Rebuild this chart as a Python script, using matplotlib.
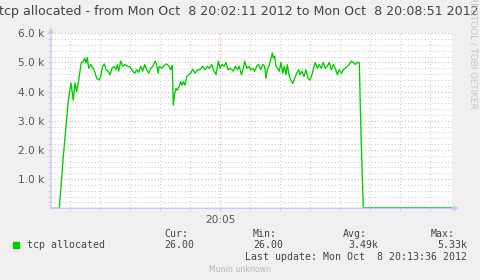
import numpy as np
import matplotlib
matplotlib.use("Agg")
import matplotlib.pyplot as plt

# seconds after 20:02:11 and tcp allocated values
secs = [0, 8.3, 12.3, 17.3, 20, 22.3, 24, 25.7, 27.7, 30.3,
        32.3, 33.7, 35, 36.3, 37.7, 39.7, 42.3, 44, 45.7, 48.3,
        49.7, 51.7, 53.3, 55, 57.3, 59, 61, 63, 65, 66.3,
        67.7, 69.7, 71.7, 74, 76.3, 79, 81.7, 83.7, 85.7, 87.7,
        89.7, 91.7, 93.7, 95.7, 97.7, 99.7, 101.7, 104.3, 105.7, 107,
        108.3, 110.7, 113, 115.7, 118, 119.7, 121.3, 122.3, 123.7, 125,
        126.3, 128, 129.7, 131, 132.3, 134, 135.7, 137.7, 139.7, 141.7,
        144, 146.3, 149, 151.7, 154, 156.3, 158.3, 160.7, 163, 165,
        167.3, 169, 171, 173, 175, 177, 179, 181, 182.3, 184.3,
        186.3, 188.3, 190.3, 192.3, 193.7, 195.7, 197.7, 199.7, 201.7, 203.7,
        205.7, 207.7, 209.7, 211.7, 213.7, 215, 216.3, 218, 219.7, 221.3,
        222.3, 223.7, 225, 226.7, 228.3, 230, 231.7, 233.3, 235, 236.3,
        238.3, 239.7, 241.7, 243.7, 245.7, 247.7, 249, 251, 253, 255,
        257, 259, 261, 263, 264.3, 266.3, 268.3, 270.3, 272.3, 274.3,
        276.3, 278.3, 280.3, 282.3, 284.3, 286.3, 288.3, 290.3, 292.3, 294.3,
        296.3, 298.3, 300.3, 302.3, 304.3, 306.3, 308.3, 310, 312.3, 401]
tcp = [0, 0, 1770, 3700, 4300, 3700, 4300, 4000, 4400, 5000,
       5030, 5150, 4980, 5170, 4800, 4930, 4800, 4650, 4450, 4400,
       4520, 4870, 4950, 4750, 4700, 4580, 4800, 4870, 4750, 4930,
       4700, 5050, 4870, 4930, 4870, 4850, 4700, 4630, 4750, 4660,
       4870, 4700, 4930, 4750, 4630, 4800, 4870, 5050, 4930, 4630,
       4870, 4800, 4890, 4950, 4870, 4750, 4900, 3540, 3940, 4110,
       4050, 4170, 4340, 4220, 4340, 4220, 4520, 4580, 4630, 4770,
       4630, 4750, 4750, 4870, 4750, 4870, 4800, 4930, 4700, 4580,
       5050, 4800, 4930, 4870, 5000, 4750, 4800, 4750, 4700, 4870,
       4750, 4870, 4580, 4800, 5050, 4800, 4870, 4750, 4800, 4700,
       4870, 4930, 4750, 4930, 4870, 4450, 4750, 4870, 5100, 5330,
       5150, 5220, 4870, 4800, 4700, 5000, 4630, 4870, 4580, 4930,
       4520, 4400, 4280, 4450, 4630, 4750, 4580, 4700, 4520, 4750,
       4450, 4400, 4580, 4870, 5000, 4800, 4930, 4800, 5000, 4800,
       4870, 5000, 4750, 4930, 4800, 4580, 4750, 4630, 4750, 4800,
       4870, 4930, 5050, 5000, 4930, 5000, 5000, 2500, 26, 26]

ymajor = [1000, 2000, 3000, 4000, 5000, 6000]
ylabels = ["1.0 k", "2.0 k", "3.0 k", "4.0 k", "5.0 k", "6.0 k"]
xmajor = [169]
xlabels = ["20:05"]

title = "tcp allocated - from Mon Oct  8 20:02:11 2012 to Mon Oct  8 20:08:51 2012"
stat_heads = ["Cur:", "Min:", "Avg:", "Max:"]
stat_vals = ["26.00", "26.00", "3.49k", "5.33k"]

bg = "#F0F0F0"
axcol = "#C8C8F4"
green = "#00CC00"

W, H = 481, 280
fig = plt.figure(figsize=(W / 100, H / 100), dpi=100, facecolor=bg)
ax = fig.add_axes([51 / W, (H - 208.3) / H, 401 / W, 175 / H])
ax.set_facecolor("white")
ax.set_xlim(0, 401)
ax.set_ylim(0, 6000)

ax.set_xticks(xmajor)
ax.set_xticklabels(xlabels)
ax.set_xticks(np.arange(19, 401, 30), minor=True)
ax.set_yticks(ymajor)
ax.set_yticklabels(ylabels)
ax.set_yticks(np.arange(200, 6000, 200), minor=True)

ax.grid(which="minor", color="#CFCFCF", linestyle=(0, (1, 2)), lw=0.8)
ax.grid(which="major", color="#E4A8A8", linestyle=(0, (1, 2)), lw=0.8)
ax.set_axisbelow(True)
ax.tick_params(which="both", length=2, color=axcol, labelsize=7.6,
               labelcolor="#555555", pad=3)
for s in ax.spines.values():
    s.set_visible(False)

ax.plot(secs, tcp, color=green, lw=0.95, zorder=3)

# axes with arrow heads
ax.annotate("", xy=(408, 0), xytext=(0, 0), xycoords="data",
            arrowprops=dict(arrowstyle="-|>", color=axcol, lw=1,
                            mutation_scale=7, shrinkA=0, shrinkB=0),
            annotation_clip=False)
ax.annotate("", xy=(0, 6200), xytext=(0, 0), xycoords="data",
            arrowprops=dict(arrowstyle="-|>", color=axcol, lw=1,
                            mutation_scale=7, shrinkA=0, shrinkB=0),
            annotation_clip=False)

fig.text(239 / W, 1 - 12 / H, title, ha="center", va="center",
         fontsize=9.05, color="#444444")
fig.text(473 / W, 1 - 52 / H, "RRDTOOL / TOBI OETIKER", rotation=270,
         ha="center", va="center", fontsize=6.3, color="#C4C4C4")

mono = "DejaVu Sans Mono"
fig.patches.append(plt.Rectangle((13 / W, 1 - 248 / H), 6 / W, 6 / H,
                                 transform=fig.transFigure, color=green))
fig.text(27 / W, 1 - 245 / H, "tcp allocated", family=mono, fontsize=7.1,
         color="#444444", va="center")
head_x = [164, 253, 343, 431]
val_right = [193, 283, 378, 467]
for hx, h in zip(head_x, stat_heads):
    fig.text(hx / W, 1 - 234 / H, h, family=mono, fontsize=7.1,
             color="#444444", va="center")
for i, v in enumerate(stat_vals):
    if i < 2:
        fig.text(head_x[i] / W, 1 - 245 / H, v, family=mono, fontsize=7.1,
                 color="#444444", va="center")
    else:
        fig.text(val_right[i] / W, 1 - 245 / H, v, family=mono, fontsize=7.1,
                 color="#444444", va="center", ha="right")
fig.text(467 / W, 1 - 257 / H, "Last update: Mon Oct  8 20:13:36 2012",
         family=mono, fontsize=7.1, color="#444444", va="center", ha="right")
fig.text(240 / W, 1 - 269 / H, "Munin unknown", fontsize=5.6,
         color="#B8B8B8", ha="center", va="center")

fig.savefig("out.png", dpi=100, facecolor=bg)
